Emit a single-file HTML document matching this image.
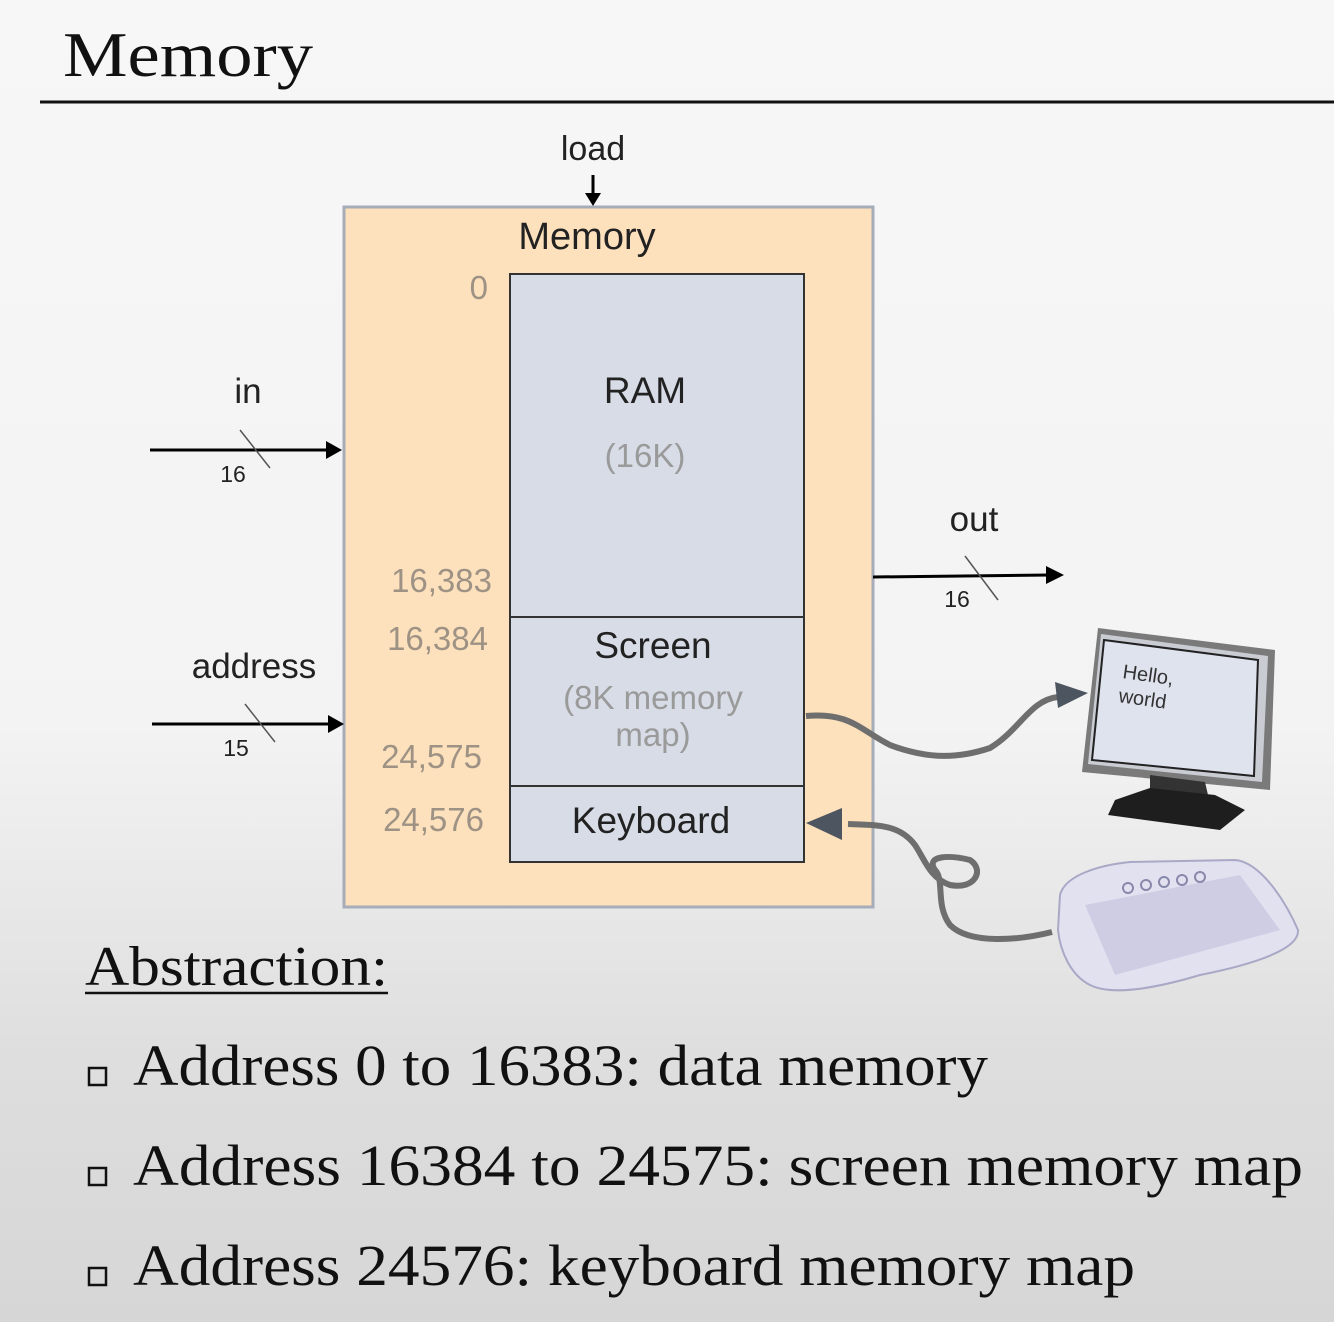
<!DOCTYPE html>
<html><head><meta charset="utf-8"><style>
html,body{margin:0;padding:0}
body{width:1334px;height:1322px;overflow:hidden;background:linear-gradient(#f7f7f7 0%,#f3f3f3 55%,#dedede 80%,#d6d6d6 100%)}
svg{display:block}
.s{font-family:"Liberation Sans","DejaVu Sans",sans-serif}
.r{font-family:"Liberation Serif",serif}
</style></head><body>
<svg width="1334" height="1322" viewBox="0 0 1334 1322">
<text x="63" y="76" class="r" font-size="64" fill="#111" textLength="250" lengthAdjust="spacingAndGlyphs">Memory</text>
<line x1="40" y1="102" x2="1334" y2="102" stroke="#111" stroke-width="3"/>

<text x="593" y="160" class="s" font-size="34" text-anchor="middle" fill="#222">load</text>
<line x1="593" y1="175" x2="593" y2="200" stroke="#000" stroke-width="3"/>
<path d="M585,193 L601,193 L593,206 z" fill="#000"/>

<rect x="344" y="207" width="529" height="700" fill="#fde0bc" stroke="#a6adb9" stroke-width="3"/>
<text x="587" y="249" class="s" font-size="38" text-anchor="middle" fill="#222">Memory</text>
<rect x="510" y="274" width="294" height="343" fill="#d7dce6" stroke="#333" stroke-width="2"/>
<rect x="510" y="617" width="294" height="169" fill="#d7dce6" stroke="#333" stroke-width="2"/>
<rect x="510" y="786" width="294" height="76" fill="#d7dce6" stroke="#333" stroke-width="2"/>
<g class="s" font-size="33" fill="#9d9284" text-anchor="end">
<text x="488" y="299">0</text>
<text x="492" y="592">16,383</text>
<text x="488" y="650">16,384</text>
<text x="482" y="768">24,575</text>
<text x="484" y="831">24,576</text>
</g>
<text x="645" y="403" class="s" font-size="37" text-anchor="middle" fill="#222">RAM</text>
<text x="645" y="467" class="s" font-size="33" text-anchor="middle" fill="#9a9a9a">(16K)</text>
<text x="653" y="658" class="s" font-size="37" text-anchor="middle" fill="#222">Screen</text>
<text x="653" y="709" class="s" font-size="33" text-anchor="middle" fill="#9a9a9a">(8K memory</text>
<text x="653" y="746" class="s" font-size="33" text-anchor="middle" fill="#9a9a9a">map)</text>
<text x="651" y="833" class="s" font-size="37" text-anchor="middle" fill="#222">Keyboard</text>

<text x="248" y="403" class="s" font-size="35" text-anchor="middle" fill="#222">in</text>
<line x1="150" y1="450" x2="330" y2="450" stroke="#000" stroke-width="3"/>
<path d="M326,441 L342,450 L326,459 z" fill="#000"/>
<line x1="240" y1="430" x2="270" y2="468" stroke="#555" stroke-width="1.5"/>
<text x="233" y="482" class="s" font-size="23" text-anchor="middle" fill="#222">16</text>

<text x="254" y="678" class="s" font-size="35" text-anchor="middle" fill="#222">address</text>
<line x1="152" y1="724" x2="332" y2="724" stroke="#000" stroke-width="3"/>
<path d="M328,715 L344,724 L328,733 z" fill="#000"/>
<line x1="245" y1="704" x2="275" y2="742" stroke="#555" stroke-width="1.5"/>
<text x="236" y="756" class="s" font-size="23" text-anchor="middle" fill="#222">15</text>

<text x="974" y="531" class="s" font-size="35" text-anchor="middle" fill="#222">out</text>
<line x1="873" y1="577" x2="1050" y2="575" stroke="#000" stroke-width="3"/>
<path d="M1046,566 L1064,575 L1046,584 z" fill="#000"/>
<line x1="965" y1="556" x2="998" y2="600" stroke="#555" stroke-width="1.5"/>
<text x="957" y="607" class="s" font-size="23" text-anchor="middle" fill="#222">16</text>

<path d="M806,716 C850,712 860,730 890,745 C930,760 960,758 990,748 C1020,730 1030,700 1058,697" fill="none" stroke="#6e6e6e" stroke-width="6"/>
<path d="M1055,682 L1088,693 L1058,708 z" fill="#4d5560"/>
<path d="M1052,932 C1020,940 970,945 950,925 C935,905 945,880 935,870 C925,855 950,855 970,860 C985,870 975,890 950,885 C930,878 925,860 915,845 C900,825 880,825 848,824" fill="none" stroke="#6e6e6e" stroke-width="6"/>
<path d="M842,808 L806,823 L842,840 z" fill="#4d5560"/>

<path d="M1098,628 L1275,650 L1270,790 L1082,772 z" fill="#7a7a7a"/>
<path d="M1101,634 L1268,656 L1262,782 L1088,764 z" fill="#c9ccd2"/>
<path d="M1104,640 L1258,660 L1254,776 L1092,760 z" fill="#dfe3ee" stroke="#222" stroke-width="2"/>
<text x="1122" y="678" class="s" font-size="20" fill="#333" transform="rotate(8 1122 678)">Hello,</text>
<text x="1118" y="702" class="s" font-size="20" fill="#333" transform="rotate(8 1118 702)">world</text>
<path d="M1150,775 L1205,782 L1208,795 L1150,790 z" fill="#333"/>
<path d="M1115,800 L1150,788 L1215,795 L1245,810 L1220,830 L1108,815 z" fill="#1e1e1e"/>

<path d="M1060,895 C1065,875 1100,865 1130,862 L1235,860 C1260,862 1285,900 1298,930 C1300,950 1250,965 1200,975 C1150,990 1110,995 1090,985 C1070,975 1060,950 1058,930 z" fill="#e2e1f0" stroke="#a9a8c6" stroke-width="2"/>
<path d="M1085,905 L1240,875 L1280,930 L1115,975 z" fill="#cfcde4"/>
<g fill="none" stroke="#8888aa" stroke-width="2">
<circle cx="1128" cy="888" r="5"/><circle cx="1146" cy="885" r="5"/><circle cx="1164" cy="882" r="5"/><circle cx="1182" cy="880" r="5"/><circle cx="1200" cy="877" r="5"/>
</g>

<text x="85" y="985" class="r" font-size="56" fill="#111" textLength="303" lengthAdjust="spacingAndGlyphs">Abstraction:</text>
<line x1="85" y1="993" x2="388" y2="993" stroke="#111" stroke-width="2.5"/>
<g class="r" font-size="58" fill="#111">
<rect x="89" y="1068" width="17" height="17" fill="none" stroke="#111" stroke-width="2.5"/>
<text x="133" y="1085" textLength="855" lengthAdjust="spacingAndGlyphs">Address 0 to 16383: data memory</text>
<rect x="89" y="1168" width="17" height="17" fill="none" stroke="#111" stroke-width="2.5"/>
<text x="133" y="1185" textLength="1170" lengthAdjust="spacingAndGlyphs">Address 16384 to 24575: screen memory map</text>
<rect x="89" y="1268" width="17" height="17" fill="none" stroke="#111" stroke-width="2.5"/>
<text x="133" y="1285" textLength="1002" lengthAdjust="spacingAndGlyphs">Address 24576: keyboard memory map</text>
</g>
</svg>
</body></html>
